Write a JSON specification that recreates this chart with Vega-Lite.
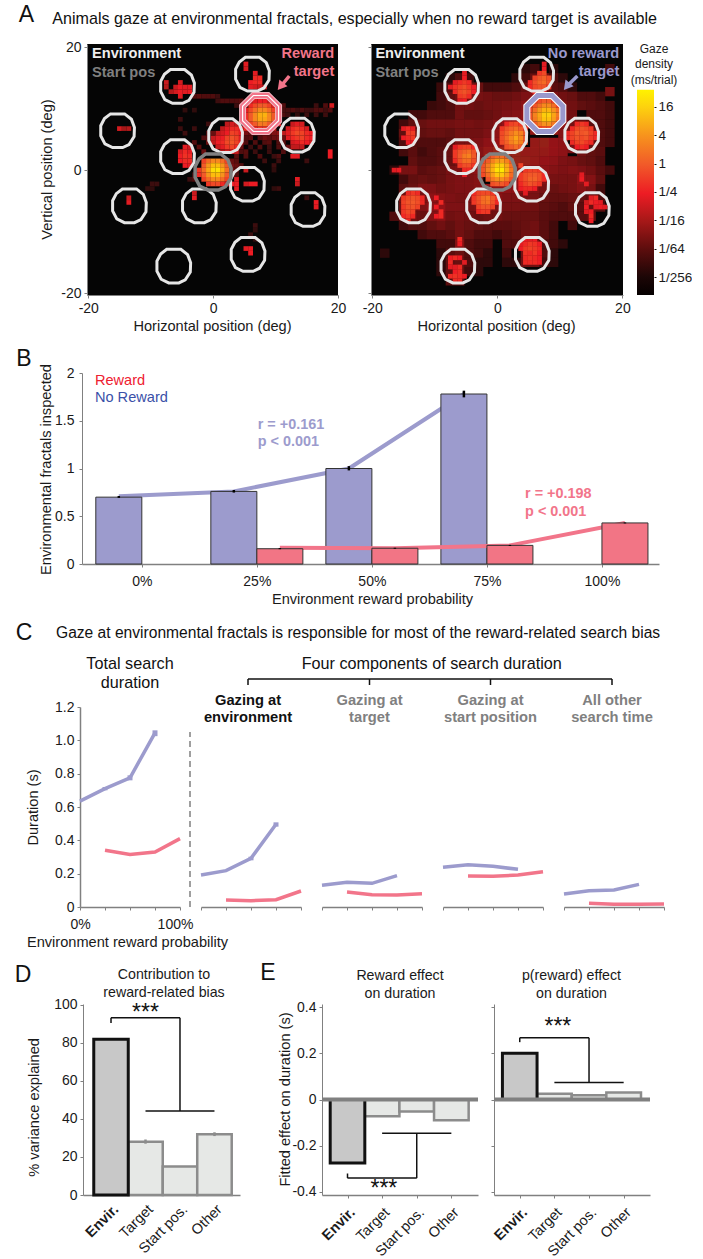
{"$schema":"https://vega.github.io/schema/vega-lite/v6.json","padding":{"left":14,"top":4,"right":0,"bottom":0},"background":"white","bounds":"flush","spacing":100,
"config":{"font":"Liberation Sans","view":{"stroke":null},"axis":{"grid":false,"labelFont":"Liberation Sans","titleFont":"Liberation Sans","labelFontSize":14,"titleFontSize":14.6,"titleFontWeight":"normal","tickSize":3,"tickColor":"#808080","domainColor":"#808080","labelColor":"#1a1a1a","titleColor":"#1a1a1a","labelPadding":3,"labelOverlap":false,"labelFlush":false},"scale":{"continuousPadding":0}},
"datasets":{"frE":[{"x":6.3,"y":15.6},{"x":-5.7,"y":13.6},{"x":-15.3,"y":6.4},{"x":-5.7,"y":2.2},{"x":2.0,"y":5.6},{"x":13.5,"y":5.7},{"x":5.5,"y":-2.3},{"x":-13.4,"y":-5.8},{"x":-2.2,"y":-5.8},{"x":15.2,"y":-6.4},{"x":5.6,"y":-13.7},{"x":-6.3,"y":-15.6}],"frS":[{"x":0,"y":-0.3}],"frT":[{"x":7.6,"y":9.2}],
"heatL":[{"x":-1.5,"y":1.5,"v":0.5},{"x":-0.75,"y":1.5,"v":1.5},{"x":0,"y":1.5,"v":3},{"x":0.75,"y":1.5,"v":3},{"x":1.5,"y":1.5,"v":1.5},{"x":2.25,"y":1.5,"v":0.5},{"x":-1.5,"y":0.75,"v":1},{"x":-0.75,"y":0.75,"v":4},{"x":0,"y":0.75,"v":10},{"x":0.75,"y":0.75,"v":10},{"x":1.5,"y":0.75,"v":4},{"x":2.25,"y":0.75,"v":1},{"x":-2.25,"y":0,"v":0.4},{"x":-1.5,"y":0,"v":1.5},{"x":-0.75,"y":0,"v":6},{"x":0,"y":0,"v":20},{"x":0.75,"y":0,"v":24},{"x":1.5,"y":0,"v":7},{"x":2.25,"y":0,"v":1.5},{"x":-2.25,"y":-0.75,"v":0.3},{"x":-1.5,"y":-0.75,"v":1},{"x":-0.75,"y":-0.75,"v":4},{"x":0,"y":-0.75,"v":10},{"x":0.75,"y":-0.75,"v":10},{"x":1.5,"y":-0.75,"v":4},{"x":2.25,"y":-0.75,"v":1},{"x":-1.5,"y":-1.5,"v":0.5},{"x":-0.75,"y":-1.5,"v":1.5},{"x":0,"y":-1.5,"v":3},{"x":0.75,"y":-1.5,"v":3},{"x":1.5,"y":-1.5,"v":1.5},{"x":2.25,"y":-1.5,"v":0.5},{"x":-0.75,"y":-2.25,"v":0.4},{"x":0,"y":-2.25,"v":0.6},{"x":0.75,"y":-2.25,"v":0.6},{"x":1.5,"y":-2.25,"v":0.3},{"x":2.25,"y":-2.25,"v":0.15},{"x":3,"y":-2.25,"v":0.25},
{"x":6,"y":11.25,"v":0.1},{"x":6.75,"y":11.25,"v":0.2},{"x":7.5,"y":11.25,"v":0.25},{"x":8.25,"y":11.25,"v":0.25},{"x":9,"y":11.25,"v":0.1},{"x":6,"y":10.5,"v":0.3},{"x":6.75,"y":10.5,"v":0.6},{"x":7.5,"y":10.5,"v":1},{"x":8.25,"y":10.5,"v":1},{"x":9,"y":10.5,"v":0.5},{"x":9.75,"y":10.5,"v":0.2},{"x":5.25,"y":9.75,"v":0.2},{"x":6,"y":9.75,"v":0.6},{"x":6.75,"y":9.75,"v":1.5},{"x":7.5,"y":9.75,"v":3},{"x":8.25,"y":9.75,"v":3},{"x":9,"y":9.75,"v":1.5},{"x":9.75,"y":9.75,"v":0.5},{"x":10.5,"y":9.75,"v":0.15},{"x":5.25,"y":9,"v":0.3},{"x":6,"y":9,"v":1},{"x":6.75,"y":9,"v":3},{"x":7.5,"y":9,"v":7},{"x":8.25,"y":9,"v":8},{"x":9,"y":9,"v":3},{"x":9.75,"y":9,"v":1},{"x":10.5,"y":9,"v":0.25},{"x":5.25,"y":8.25,"v":0.3},{"x":6,"y":8.25,"v":1},{"x":6.75,"y":8.25,"v":3},{"x":7.5,"y":8.25,"v":6},{"x":8.25,"y":8.25,"v":6},{"x":9,"y":8.25,"v":3},{"x":9.75,"y":8.25,"v":1},{"x":10.5,"y":8.25,"v":0.25},{"x":5.25,"y":7.5,"v":0.2},{"x":6,"y":7.5,"v":0.5},{"x":6.75,"y":7.5,"v":1},{"x":7.5,"y":7.5,"v":2},{"x":8.25,"y":7.5,"v":2},{"x":9,"y":7.5,"v":1},{"x":9.75,"y":7.5,"v":0.4},{"x":10.5,"y":7.5,"v":0.15},{"x":4.5,"y":6.75,"v":0.25},{"x":5.25,"y":6.75,"v":0.3},{"x":6,"y":6.75,"v":0.2},{"x":6.75,"y":6.75,"v":0.3},{"x":7.5,"y":6.75,"v":0.4},{"x":8.25,"y":6.75,"v":0.4},{"x":9,"y":6.75,"v":0.2},{"x":9.75,"y":6.75,"v":0.1},
{"x":2.25,"y":7.5,"v":0.1},{"x":3,"y":7.5,"v":0.15},{"x":3.75,"y":7.5,"v":0.1},{"x":1.5,"y":6.75,"v":0.1},{"x":2.25,"y":6.75,"v":0.2},{"x":3,"y":6.75,"v":0.3},{"x":3.75,"y":6.75,"v":0.3},{"x":0.75,"y":6,"v":0.1},{"x":1.5,"y":6,"v":0.15},{"x":2.25,"y":6,"v":0.25},{"x":3,"y":6,"v":0.5},{"x":3.75,"y":6,"v":0.4},{"x":4.5,"y":6,"v":0.25},{"x":0,"y":5.25,"v":0.12},{"x":0.75,"y":5.25,"v":0.2},{"x":1.5,"y":5.25,"v":0.25},{"x":2.25,"y":5.25,"v":0.5},{"x":3,"y":5.25,"v":0.8},{"x":3.75,"y":5.25,"v":0.5},{"x":4.5,"y":5.25,"v":0.2},{"x":0,"y":4.5,"v":0.1},{"x":0.75,"y":4.5,"v":0.25},{"x":1.5,"y":4.5,"v":0.3},{"x":2.25,"y":4.5,"v":0.6},{"x":3,"y":4.5,"v":0.9},{"x":3.75,"y":4.5,"v":0.5},{"x":4.5,"y":4.5,"v":0.25},{"x":0.75,"y":3.75,"v":0.12},{"x":1.5,"y":3.75,"v":0.2},{"x":2.25,"y":3.75,"v":0.4},{"x":3,"y":3.75,"v":0.5},{"x":3.75,"y":3.75,"v":0.3},{"x":1.5,"y":3,"v":0.08},{"x":2.25,"y":3,"v":0.15},{"x":3,"y":3,"v":0.2},{"x":3.75,"y":3,"v":0.12},
{"x":12.75,"y":7.5,"v":0.12},{"x":13.5,"y":7.5,"v":0.2},{"x":14.25,"y":7.5,"v":0.15},{"x":12,"y":6.75,"v":0.15},{"x":12.75,"y":6.75,"v":0.3},{"x":13.5,"y":6.75,"v":0.4},{"x":14.25,"y":6.75,"v":0.3},{"x":15,"y":6.75,"v":0.15},{"x":11.25,"y":6,"v":0.1},{"x":12,"y":6,"v":0.2},{"x":12.75,"y":6,"v":0.4},{"x":13.5,"y":6,"v":0.6},{"x":14.25,"y":6,"v":0.5},{"x":15,"y":6,"v":0.3},{"x":15.75,"y":6,"v":0.25},{"x":12,"y":5.25,"v":0.2},{"x":12.75,"y":5.25,"v":0.3},{"x":13.5,"y":5.25,"v":0.4},{"x":14.25,"y":5.25,"v":0.5},{"x":15,"y":5.25,"v":0.3},{"x":15.75,"y":5.25,"v":0.25},{"x":12.75,"y":4.5,"v":0.15},{"x":13.5,"y":4.5,"v":0.2},{"x":14.25,"y":4.5,"v":0.3},{"x":15,"y":4.5,"v":0.25},{"x":15.75,"y":4.5,"v":0.15},{"x":12.75,"y":3.75,"v":0.1},{"x":13.5,"y":3.75,"v":0.1},{"x":14.25,"y":3.75,"v":0.1},{"x":12.75,"y":2.25,"v":0.2},{"x":13.5,"y":2.25,"v":0.2},{"x":18.75,"y":3,"v":0.25},{"x":18.75,"y":2.25,"v":0.25},
{"x":-4.5,"y":3.75,"v":0.2},{"x":-3.75,"y":3.75,"v":0.12},{"x":-5.25,"y":3,"v":0.15},{"x":-4.5,"y":3,"v":0.3},{"x":-3.75,"y":3,"v":0.2},{"x":-5.25,"y":2.25,"v":0.25},{"x":-4.5,"y":2.25,"v":0.35},{"x":-3.75,"y":2.25,"v":0.3},{"x":-5.25,"y":1.5,"v":0.25},{"x":-4.5,"y":1.5,"v":0.3},{"x":-3.75,"y":1.5,"v":0.3},{"x":-4.5,"y":0.75,"v":0.25},{"x":-3.75,"y":0.75,"v":0.2},
{"x":5.25,"y":17.25,"v":0.2},{"x":5.25,"y":16.5,"v":0.15},{"x":6.75,"y":15.75,"v":0.2},{"x":6.75,"y":15,"v":0.3},{"x":7.5,"y":15,"v":0.3},{"x":6,"y":14.25,"v":0.25},{"x":6.75,"y":14.25,"v":0.3},{"x":7.5,"y":14.25,"v":0.3},{"x":6,"y":13.5,"v":0.2},{"x":6.75,"y":13.5,"v":0.15},{"x":7.5,"y":13.5,"v":0.12},{"x":8.25,"y":13.5,"v":0.1},
{"x":-7.5,"y":14.25,"v":0.12},{"x":-5.25,"y":14.25,"v":0.15},{"x":-7.5,"y":13.5,"v":0.08},{"x":-6,"y":13.5,"v":0.12},{"x":-5.25,"y":13.5,"v":0.25},{"x":-4.5,"y":13.5,"v":0.2},{"x":-3.75,"y":13.5,"v":0.2},{"x":-6.75,"y":12.75,"v":0.08},{"x":-6,"y":12.75,"v":0.15},{"x":-5.25,"y":12.75,"v":0.25},{"x":-4.5,"y":12.75,"v":0.2},{"x":-3.75,"y":12.75,"v":0.25},{"x":-5.25,"y":12,"v":0.2},
{"x":-15,"y":6.75,"v":0.15},{"x":-14.25,"y":6.75,"v":0.06},{"x":-13.5,"y":6.75,"v":0.08},{"x":-13.5,"y":-4.5,"v":0.12},{"x":-13.5,"y":-5.25,"v":0.2},{"x":-3,"y":-4.5,"v":0.2},{"x":-3,"y":-3.75,"v":0.12},{"x":5.25,"y":-2.25,"v":0.15},{"x":6,"y":-2.25,"v":0.25},{"x":6.75,"y":-2.25,"v":0.25},{"x":5.25,"y":0,"v":0.12},{"x":3.75,"y":-1.5,"v":0.2},{"x":3.75,"y":-2.25,"v":0.25},{"x":3.75,"y":-3,"v":0.2},{"x":5.25,"y":-12.75,"v":0.2},{"x":6,"y":-12.75,"v":0.25},{"x":6,"y":-13.5,"v":0.25},{"x":16.5,"y":-5.25,"v":0.25},{"x":16.5,"y":-6,"v":0.2},{"x":13.5,"y":-1.5,"v":0.2},{"x":13.5,"y":-2.25,"v":0.12},{"x":19,"y":10.5,"v":0.15},
{"x":11.25,"y":9.75,"v":0.01},{"x":12,"y":9.75,"v":0.01},{"x":12.75,"y":9.75,"v":0.012},{"x":13.5,"y":9.75,"v":0.008},{"x":14.25,"y":9.75,"v":0.012},{"x":15,"y":9.75,"v":0.008},{"x":15.75,"y":9.75,"v":0.008},{"x":16.5,"y":9.75,"v":0.012},{"x":17.25,"y":9.75,"v":0.012},{"x":18,"y":9.75,"v":0.008},{"x":18.75,"y":9.75,"v":0.012},{"x":11.25,"y":9,"v":0.012},{"x":12,"y":9,"v":0.008},{"x":13.5,"y":9,"v":0.006},{"x":15,"y":9,"v":0.008},{"x":16.5,"y":9,"v":0.008},{"x":18,"y":9,"v":0.008},{"x":11.25,"y":10.5,"v":0.012},{"x":16.5,"y":10.5,"v":0.008},{"x":18,"y":10.5,"v":0.012},{"x":-3,"y":12,"v":0.012},{"x":-2.25,"y":12,"v":0.015},{"x":-1.5,"y":12,"v":0.012},{"x":-0.75,"y":12,"v":0.012},{"x":0,"y":12,"v":0.012},{"x":0.75,"y":12,"v":0.008},{"x":0.75,"y":11.25,"v":0.008},{"x":1.5,"y":11.25,"v":0.012},{"x":2.25,"y":11.25,"v":0.012},{"x":3,"y":11.25,"v":0.012},{"x":3.75,"y":11.25,"v":0.012},{"x":4.5,"y":11.25,"v":0.015},{"x":3.75,"y":10.5,"v":0.008},{"x":4.5,"y":10.5,"v":0.012},{"x":5.25,"y":10.5,"v":0.02},{"x":5.25,"y":6,"v":0.025},{"x":6,"y":6,"v":0.02},{"x":6.75,"y":6,"v":0.015},{"x":7.5,"y":6,"v":0.02},{"x":8.25,"y":6,"v":0.025},{"x":9,"y":6,"v":0.025},{"x":9.75,"y":6,"v":0.03},{"x":10.5,"y":6,"v":0.04},{"x":5.25,"y":5.25,"v":0.012},{"x":6,"y":5.25,"v":0.015},{"x":7.5,"y":5.25,"v":0.012},{"x":8.25,"y":5.25,"v":0.02},{"x":9,"y":5.25,"v":0.015},{"x":9.75,"y":5.25,"v":0.02},{"x":10.5,"y":5.25,"v":0.025},{"x":11.25,"y":5.25,"v":0.02},{"x":5.25,"y":4.5,"v":0.012},{"x":6.75,"y":4.5,"v":0.012},{"x":8.25,"y":4.5,"v":0.012},{"x":9,"y":4.5,"v":0.015},{"x":10.5,"y":4.5,"v":0.012},{"x":11.25,"y":4.5,"v":0.015},{"x":4.5,"y":3.75,"v":0.02},{"x":6,"y":3.75,"v":0.008},{"x":7.5,"y":3.75,"v":0.012},{"x":9,"y":3.75,"v":0.008},{"x":10.5,"y":3.75,"v":0.012},{"x":12,"y":3.75,"v":0.02},{"x":4.5,"y":3,"v":0.012},{"x":5.25,"y":3,"v":0.015},{"x":6.75,"y":3,"v":0.008},{"x":9,"y":3,"v":0.008},{"x":11.25,"y":3,"v":0.012},{"x":3.75,"y":2.25,"v":0.015},{"x":5.25,"y":2.25,"v":0.012},{"x":7.5,"y":2.25,"v":0.012},{"x":9.75,"y":2.25,"v":0.008},{"x":10.5,"y":2.25,"v":0.012},{"x":3,"y":1.5,"v":0.02},{"x":3.75,"y":1.5,"v":0.015},{"x":8.25,"y":1.5,"v":0.008},{"x":10.5,"y":1.5,"v":0.008},{"x":15,"y":1.5,"v":0.008},{"x":3,"y":0.75,"v":0.025},{"x":3.75,"y":0.75,"v":0.02},{"x":4.5,"y":0.75,"v":0.012},{"x":9.75,"y":0.75,"v":0.008},{"x":3,"y":0,"v":0.02},{"x":3.75,"y":0,"v":0.015},{"x":9.75,"y":0,"v":0.006},{"x":3,"y":-0.75,"v":0.012},{"x":3.75,"y":-0.75,"v":0.012},{"x":-3,"y":-0.75,"v":0.008},{"x":-3,"y":-1.5,"v":0.012},{"x":-3.75,"y":-1.5,"v":0.008},{"x":-9.75,"y":-2.25,"v":0.008},{"x":-9,"y":-2.25,"v":0.008},{"x":-9.75,"y":-3,"v":0.006},{"x":-10.5,"y":-3,"v":0.006},{"x":9.75,"y":-3,"v":0.006},{"x":10.5,"y":-3,"v":0.008},{"x":15,"y":-4.5,"v":0.008},{"x":6.75,"y":-9,"v":0.008},{"x":6.75,"y":-9.75,"v":0.006},{"x":6,"y":-10.5,"v":0.008},{"x":6.75,"y":-11.25,"v":0.006},{"x":-5.25,"y":8.25,"v":0.008},{"x":-4.5,"y":9.75,"v":0.006},{"x":-3,"y":9.75,"v":0.006},{"x":-0.75,"y":7.5,"v":0.008},{"x":-5.25,"y":6.75,"v":0.008},{"x":-3,"y":6.75,"v":0.008},{"x":-4.5,"y":6,"v":0.008},{"x":-0.75,"y":6,"v":0.012},{"x":0,"y":6,"v":0.02},{"x":-1.5,"y":5.25,"v":0.012},{"x":-0.75,"y":5.25,"v":0.015},{"x":-3,"y":4.5,"v":0.012},{"x":-0.75,"y":4.5,"v":0.02},{"x":-2.25,"y":3.75,"v":0.015},{"x":-1.5,"y":3,"v":0.02}],
"hazeR":[{"x":4.5,"y":16.5,"v":0.01},{"x":9,"y":16.5,"v":0.01},{"x":18,"y":16.5,"v":0.02},{"x":-7.5,"y":15,"v":0.01},{"x":-4.5,"y":15,"v":0.02},{"x":3,"y":15,"v":0.01},{"x":4.5,"y":15,"v":0.02},{"x":9,"y":15,"v":0.03},{"x":10.5,"y":15,"v":0.01},{"x":-9,"y":13.5,"v":0.015},{"x":-7.5,"y":13.5,"v":0.03},{"x":-3,"y":13.5,"v":0.06},{"x":-1.5,"y":13.5,"v":0.02},{"x":0,"y":13.5,"v":0.02},{"x":1.5,"y":13.5,"v":0.02},{"x":3,"y":13.5,"v":0.03},{"x":4.5,"y":13.5,"v":0.06},{"x":9,"y":13.5,"v":0.04},{"x":10.5,"y":13.5,"v":0.03},{"x":12,"y":13.5,"v":0.01},{"x":18,"y":12.75,"v":0.1},{"x":-9,"y":12,"v":0.02},{"x":-7.5,"y":12,"v":0.05},{"x":-3,"y":12,"v":0.1},{"x":-1.5,"y":12,"v":0.08},{"x":0,"y":12,"v":0.06},{"x":1.5,"y":12,"v":0.06},{"x":3,"y":12,"v":0.08},{"x":4.5,"y":12,"v":0.12},{"x":6,"y":12,"v":0.2},{"x":9,"y":12,"v":0.12},{"x":10.5,"y":12,"v":0.08},{"x":12,"y":12,"v":0.06},{"x":13.5,"y":12,"v":0.03},{"x":15,"y":12,"v":0.03},{"x":16.5,"y":12,"v":0.02},{"x":-10.5,"y":10.5,"v":0.015},{"x":-9,"y":10.5,"v":0.02},{"x":-7.5,"y":10.5,"v":0.03},{"x":-6,"y":10.5,"v":0.08},{"x":-4.5,"y":10.5,"v":0.08},{"x":-3,"y":10.5,"v":0.06},{"x":-1.5,"y":10.5,"v":0.08},{"x":0,"y":10.5,"v":0.08},{"x":1.5,"y":10.5,"v":0.1},{"x":3,"y":10.5,"v":0.12},{"x":4.5,"y":10.5,"v":0.2},{"x":10.5,"y":10.5,"v":0.12},{"x":12,"y":10.5,"v":0.08},{"x":13.5,"y":10.5,"v":0.05},{"x":15,"y":10.5,"v":0.04},{"x":16.5,"y":10.5,"v":0.03},{"x":18,"y":10.5,"v":0.02},{"x":-13.5,"y":9,"v":0.02},{"x":-12,"y":9,"v":0.02},{"x":-10.5,"y":9,"v":0.03},{"x":-9,"y":9,"v":0.03},{"x":-7.5,"y":9,"v":0.03},{"x":-6,"y":9,"v":0.08},{"x":-4.5,"y":9,"v":0.05},{"x":-3,"y":9,"v":0.05},{"x":-1.5,"y":9,"v":0.06},{"x":0,"y":9,"v":0.08},{"x":1.5,"y":9,"v":0.12},{"x":3,"y":9,"v":0.15},{"x":4.5,"y":9,"v":0.2},{"x":10.5,"y":9,"v":0.15},{"x":12,"y":9,"v":0.08},{"x":15,"y":9,"v":0.03},{"x":16.5,"y":9,"v":0.03},{"x":18,"y":9,"v":0.02},{"x":-12,"y":7.5,"v":0.06},{"x":-10.5,"y":7.5,"v":0.08},{"x":-9,"y":7.5,"v":0.08},{"x":-7.5,"y":7.5,"v":0.08},{"x":-6,"y":7.5,"v":0.1},{"x":-4.5,"y":7.5,"v":0.1},{"x":-3,"y":7.5,"v":0.08},{"x":-1.5,"y":7.5,"v":0.1},{"x":0,"y":7.5,"v":0.15},{"x":1.5,"y":7.5,"v":0.25},{"x":4.5,"y":7.5,"v":0.25},{"x":6,"y":6.5,"v":0.3},{"x":7.5,"y":6.5,"v":0.3},{"x":9,"y":6.5,"v":0.3},{"x":10.5,"y":7.5,"v":0.2},{"x":12,"y":7.5,"v":0.1},{"x":16.5,"y":7.5,"v":0.03},{"x":18,"y":7.5,"v":0.02},{"x":-12,"y":6,"v":0.05},{"x":-10.5,"y":6,"v":0.06},{"x":-9,"y":6,"v":0.06},{"x":-7.5,"y":6,"v":0.05},{"x":-6,"y":6,"v":0.08},{"x":-4.5,"y":6,"v":0.08},{"x":-3,"y":6,"v":0.08},{"x":-1.5,"y":6,"v":0.12},{"x":0,"y":6,"v":0.2},{"x":10.5,"y":6,"v":0.15},{"x":16.5,"y":6,"v":0.03},{"x":18,"y":6,"v":0.02},{"x":-13.5,"y":4.5,"v":0.03},{"x":-12,"y":4.5,"v":0.03},{"x":-10.5,"y":4.5,"v":0.03},{"x":-9,"y":4.5,"v":0.03},{"x":-7.5,"y":4.5,"v":0.04},{"x":-6,"y":4.5,"v":0.1},{"x":-4.5,"y":4.5,"v":0.1},{"x":-3,"y":4.5,"v":0.12},{"x":-1.5,"y":4.5,"v":0.2},{"x":0,"y":4.5,"v":0.25},{"x":6,"y":4.5,"v":0.3},{"x":7.5,"y":4.5,"v":0.35},{"x":9,"y":4.5,"v":0.25},{"x":10.5,"y":4.5,"v":0.2},{"x":12,"y":3.5,"v":0.12},{"x":16.5,"y":4.5,"v":0.03},{"x":18,"y":4.5,"v":0.02},{"x":-15,"y":3,"v":0.02},{"x":-13.5,"y":3,"v":0.04},{"x":-12,"y":3,"v":0.02},{"x":-10.5,"y":3,"v":0.03},{"x":-9,"y":3,"v":0.04},{"x":-7.5,"y":3,"v":0.06},{"x":-3,"y":3,"v":0.15},{"x":-1.5,"y":3,"v":0.3},{"x":0,"y":3,"v":0.4},{"x":1.5,"y":3,"v":0.4},{"x":3,"y":3,"v":0.4},{"x":4.5,"y":3,"v":0.3},{"x":6,"y":3,"v":0.3},{"x":7.5,"y":3,"v":0.3},{"x":9,"y":3,"v":0.25},{"x":10.5,"y":3,"v":0.2},{"x":13.5,"y":3,"v":0.08},{"x":15,"y":3,"v":0.05},{"x":16.5,"y":3,"v":0.04},{"x":-13.5,"y":1.5,"v":0.05},{"x":-12,"y":1.5,"v":0.03},{"x":-10.5,"y":1.5,"v":0.03},{"x":-9,"y":1.5,"v":0.04},{"x":-7.5,"y":1.5,"v":0.06},{"x":-3,"y":1.5,"v":0.15},{"x":3,"y":1.5,"v":0.4},{"x":4.5,"y":1.5,"v":0.35},{"x":6,"y":1.5,"v":0.3},{"x":7.5,"y":1.5,"v":0.25},{"x":9,"y":1.5,"v":0.2},{"x":10.5,"y":1.5,"v":0.12},{"x":12,"y":1.5,"v":0.1},{"x":13.5,"y":1.5,"v":0.06},{"x":15,"y":1.5,"v":0.05},{"x":16.5,"y":1.5,"v":0.03},{"x":-16.5,"y":0,"v":0.01},{"x":-15,"y":0,"v":0.1},{"x":-13.5,"y":0,"v":0.1},{"x":-12,"y":0,"v":0.04},{"x":-10.5,"y":0,"v":0.05},{"x":-9,"y":0,"v":0.06},{"x":-7.5,"y":0,"v":0.1},{"x":-6,"y":0,"v":0.12},{"x":-4.5,"y":0,"v":0.15},{"x":-3,"y":0,"v":0.2},{"x":3,"y":0,"v":0.3},{"x":9,"y":0,"v":0.15},{"x":10.5,"y":0,"v":0.12},{"x":12,"y":0,"v":0.15},{"x":13.5,"y":0,"v":0.12},{"x":15,"y":0,"v":0.08},{"x":16.5,"y":0,"v":0.04},{"x":18,"y":0,"v":0.02},{"x":-15,"y":-1.5,"v":0.02},{"x":-13.5,"y":-1.5,"v":0.05},{"x":-12,"y":-1.5,"v":0.06},{"x":-10.5,"y":-1.5,"v":0.05},{"x":-9,"y":-1.5,"v":0.06},{"x":-7.5,"y":-1.5,"v":0.1},{"x":-6,"y":-1.5,"v":0.12},{"x":-4.5,"y":-1.5,"v":0.12},{"x":-3,"y":-1.5,"v":0.15},{"x":9,"y":-1.5,"v":0.1},{"x":10.5,"y":-1.5,"v":0.1},{"x":12,"y":-1.5,"v":0.1},{"x":13.5,"y":-1.5,"v":0.2},{"x":15,"y":-1.5,"v":0.15},{"x":16.5,"y":-1.5,"v":0.05},{"x":-15,"y":-3,"v":0.04},{"x":-12,"y":-3,"v":0.12},{"x":-10.5,"y":-3,"v":0.12},{"x":-9,"y":-3,"v":0.08},{"x":-7.5,"y":-3,"v":0.1},{"x":-6,"y":-3,"v":0.12},{"x":-4.5,"y":-3,"v":0.12},{"x":1.5,"y":-3,"v":0.2},{"x":3,"y":-3,"v":0.2},{"x":9,"y":-3,"v":0.06},{"x":10.5,"y":-3,"v":0.08},{"x":12,"y":-3,"v":0.1},{"x":13.5,"y":-3,"v":0.15},{"x":15,"y":-3,"v":0.1},{"x":16.5,"y":-3,"v":0.02},{"x":-10.5,"y":-4.5,"v":0.2},{"x":-9,"y":-4.5,"v":0.15},{"x":-7.5,"y":-4.5,"v":0.12},{"x":-6,"y":-4.5,"v":0.1},{"x":-4.5,"y":-4.5,"v":0.12},{"x":1.5,"y":-4.5,"v":0.12},{"x":3,"y":-4.5,"v":0.12},{"x":4.5,"y":-4.5,"v":0.1},{"x":7.5,"y":-4.5,"v":0.06},{"x":9,"y":-4.5,"v":0.05},{"x":10.5,"y":-4.5,"v":0.05},{"x":12,"y":-4.5,"v":0.06},{"x":13.5,"y":-4.5,"v":0.05},{"x":-10.5,"y":-6,"v":0.2},{"x":-9,"y":-6,"v":0.25},{"x":-7.5,"y":-6,"v":0.12},{"x":-6,"y":-6,"v":0.12},{"x":-4.5,"y":-6,"v":0.1},{"x":1.5,"y":-6,"v":0.1},{"x":3,"y":-6,"v":0.1},{"x":4.5,"y":-6,"v":0.08},{"x":6,"y":-6,"v":0.08},{"x":7.5,"y":-6,"v":0.05},{"x":9,"y":-6,"v":0.04},{"x":10.5,"y":-6,"v":0.03},{"x":12,"y":-6,"v":0.05},{"x":-16.5,"y":-7.5,"v":0.03},{"x":-10.5,"y":-7.5,"v":0.15},{"x":-9,"y":-7.5,"v":0.2},{"x":-7.5,"y":-7.5,"v":0.08},{"x":-6,"y":-7.5,"v":0.1},{"x":-4.5,"y":-7.5,"v":0.08},{"x":-3,"y":-7.5,"v":0.06},{"x":0,"y":-7.5,"v":0.08},{"x":1.5,"y":-7.5,"v":0.06},{"x":3,"y":-7.5,"v":0.06},{"x":4.5,"y":-7.5,"v":0.06},{"x":6,"y":-7.5,"v":0.06},{"x":7.5,"y":-7.5,"v":0.04},{"x":9,"y":-7.5,"v":0.03},{"x":10.5,"y":-7.5,"v":0.03},{"x":12,"y":-7.5,"v":0.03},{"x":13.5,"y":-7.5,"v":0.02},{"x":-15,"y":-9,"v":0.02},{"x":-13.5,"y":-9,"v":0.03},{"x":-12,"y":-9,"v":0.03},{"x":-10.5,"y":-9,"v":0.05},{"x":-9,"y":-9,"v":0.08},{"x":-7.5,"y":-9,"v":0.05},{"x":-6,"y":-9,"v":0.08},{"x":-4.5,"y":-9,"v":0.06},{"x":-3,"y":-9,"v":0.05},{"x":-1.5,"y":-9,"v":0.04},{"x":0,"y":-9,"v":0.04},{"x":1.5,"y":-9,"v":0.04},{"x":3,"y":-9,"v":0.05},{"x":4.5,"y":-9,"v":0.06},{"x":6,"y":-9,"v":0.08},{"x":7.5,"y":-9,"v":0.04},{"x":9,"y":-9,"v":0.02},{"x":12,"y":-9,"v":0.02},{"x":-12,"y":-10.5,"v":0.02},{"x":-10.5,"y":-10.5,"v":0.03},{"x":-9,"y":-10.5,"v":0.03},{"x":-7.5,"y":-10.5,"v":0.04},{"x":-6,"y":-10.5,"v":0.08},{"x":-4.5,"y":-10.5,"v":0.05},{"x":-3,"y":-10.5,"v":0.03},{"x":-1.5,"y":-10.5,"v":0.03},{"x":0,"y":-10.5,"v":0.02},{"x":1.5,"y":-10.5,"v":0.03},{"x":3,"y":-10.5,"v":0.04},{"x":4.5,"y":-10.5,"v":0.08},{"x":6,"y":-10.5,"v":0.08},{"x":7.5,"y":-10.5,"v":0.04},{"x":9,"y":-10.5,"v":0.02},{"x":-9,"y":-12,"v":0.02},{"x":-7.5,"y":-12,"v":0.02},{"x":-6,"y":-12,"v":0.15},{"x":-4.5,"y":-12,"v":0.03},{"x":-3,"y":-12,"v":0.02},{"x":-1.5,"y":-12,"v":0.02},{"x":1.5,"y":-12,"v":0.03},{"x":3,"y":-12,"v":0.03},{"x":9,"y":-12,"v":0.02},{"x":10.5,"y":-12,"v":0.01},{"x":-18,"y":-13.5,"v":0.01},{"x":-9,"y":-13.5,"v":0.01},{"x":-3,"y":-13.5,"v":0.02},{"x":-1.5,"y":-13.5,"v":0.01},{"x":1.5,"y":-13.5,"v":0.02},{"x":9,"y":-13.5,"v":0.01},{"x":-9,"y":-15,"v":0.01},{"x":-3,"y":-15,"v":0.01},{"x":-1.5,"y":-15,"v":0.01},{"x":1.5,"y":-15,"v":0.01},{"x":3,"y":-15,"v":0.01},{"x":9,"y":-15,"v":0.01},{"x":-9,"y":-16.5,"v":0.01},{"x":-3,"y":-16.5,"v":0.01},
{"x":-6,"y":3,"v":0.1},{"x":-4.5,"y":3,"v":0.1},{"x":-6,"y":1.5,"v":0.1},{"x":-4.5,"y":1.5,"v":0.12},{"x":-15,"y":-4.5,"v":0.08},{"x":-13.5,"y":-4.5,"v":0.1},{"x":-12,"y":-4.5,"v":0.1},{"x":-15,"y":-6,"v":0.08},{"x":-13.5,"y":-6,"v":0.1},{"x":-12,"y":-6,"v":0.12},{"x":-13.5,"y":-3,"v":0.06},{"x":-15,"y":-7.5,"v":0.05},{"x":-13.5,"y":-7.5,"v":0.08},{"x":-12,"y":-7.5,"v":0.06},{"x":-3,"y":-4.5,"v":0.15},{"x":-1.5,"y":-4.5,"v":0.2},{"x":0,"y":-4.5,"v":0.15},{"x":-3,"y":-6,"v":0.12},{"x":-1.5,"y":-6,"v":0.15},{"x":0,"y":-6,"v":0.12},{"x":-1.5,"y":-3,"v":0.2},{"x":0,"y":-3,"v":0.2},{"x":-3,"y":-3,"v":0.15},{"x":-1.5,"y":-7.5,"v":0.08},{"x":4.5,"y":0,"v":0.25},{"x":6,"y":0,"v":0.25},{"x":7.5,"y":0,"v":0.2},{"x":4.5,"y":-1.5,"v":0.2},{"x":6,"y":-1.5,"v":0.2},{"x":7.5,"y":-1.5,"v":0.15},{"x":4.5,"y":-3,"v":0.15},{"x":6,"y":-3,"v":0.12},{"x":7.5,"y":-3,"v":0.1},{"x":1.5,"y":-1.5,"v":0.25},{"x":3,"y":-1.5,"v":0.25},{"x":12,"y":6,"v":0.1},{"x":13.5,"y":6,"v":0.12},{"x":15,"y":6,"v":0.08},{"x":13.5,"y":4.5,"v":0.1},{"x":15,"y":4.5,"v":0.06},{"x":13.5,"y":7.5,"v":0.06},{"x":15,"y":7.5,"v":0.04},{"x":3,"y":6,"v":0.25},{"x":1.5,"y":6,"v":0.25},{"x":3,"y":4.5,"v":0.3},{"x":1.5,"y":4.5,"v":0.3},{"x":3,"y":7.5,"v":0.25},{"x":6,"y":13.5,"v":0.15},{"x":7.5,"y":13.5,"v":0.15},{"x":6,"y":15,"v":0.06},{"x":7.5,"y":15,"v":0.08},{"x":6,"y":16.5,"v":0.02},{"x":-6,"y":13.5,"v":0.08},{"x":-4.5,"y":13.5,"v":0.08},{"x":-6,"y":12,"v":0.08},{"x":-4.5,"y":12,"v":0.1},{"x":-6,"y":15,"v":0.03},{"x":-15,"y":6,"v":0.05},{"x":-13.5,"y":6,"v":0.06},{"x":-15,"y":4.5,"v":0.03},{"x":-13.5,"y":7.5,"v":0.05},{"x":-15,"y":7.5,"v":0.02},{"x":15,"y":-4.5,"v":0.05},{"x":13.5,"y":-6,"v":0.04},{"x":15,"y":-6,"v":0.06},{"x":16.5,"y":-6,"v":0.04},{"x":13.5,"y":-7.5,"v":0.02},{"x":15,"y":-7.5,"v":0.05},{"x":16.5,"y":-4.5,"v":0.03},{"x":4.5,"y":-12,"v":0.1},{"x":6,"y":-12,"v":0.1},{"x":7.5,"y":-12,"v":0.03},{"x":4.5,"y":-13.5,"v":0.1},{"x":6,"y":-13.5,"v":0.1},{"x":7.5,"y":-13.5,"v":0.03},{"x":4.5,"y":-15,"v":0.08},{"x":6,"y":-15,"v":0.08},{"x":7.5,"y":-15,"v":0.02},{"x":-7.5,"y":-13.5,"v":0.04},{"x":-6,"y":-13.5,"v":0.06},{"x":-4.5,"y":-13.5,"v":0.03},{"x":-7.5,"y":-15,"v":0.05},{"x":-6,"y":-15,"v":0.06},{"x":-4.5,"y":-15,"v":0.03},{"x":-7.5,"y":-16.5,"v":0.05},{"x":-6,"y":-16.5,"v":0.06},{"x":-4.5,"y":-16.5,"v":0.02},{"x":-7.5,"y":-18,"v":0.04},{"x":-6,"y":-18,"v":0.05},{"x":6,"y":-4.5,"v":0.1}],
"heatR":[{"x":-1.5,"y":2.25,"v":0.6},{"x":-0.75,"y":2.25,"v":1},{"x":0,"y":2.25,"v":1.5},{"x":0.75,"y":2.25,"v":1.5},{"x":1.5,"y":2.25,"v":1},{"x":-2.25,"y":1.5,"v":0.6},{"x":-1.5,"y":1.5,"v":1},{"x":-0.75,"y":1.5,"v":2.5},{"x":0,"y":1.5,"v":5},{"x":0.75,"y":1.5,"v":5},{"x":1.5,"y":1.5,"v":2.5},{"x":2.25,"y":1.5,"v":1},{"x":-2.25,"y":0.75,"v":0.8},{"x":-1.5,"y":0.75,"v":2},{"x":-0.75,"y":0.75,"v":6},{"x":0,"y":0.75,"v":14},{"x":0.75,"y":0.75,"v":14},{"x":1.5,"y":0.75,"v":6},{"x":2.25,"y":0.75,"v":1.5},{"x":-2.25,"y":0,"v":0.8},{"x":-1.5,"y":0,"v":2.5},{"x":-0.75,"y":0,"v":8},{"x":0,"y":0,"v":24},{"x":0.75,"y":0,"v":28},{"x":1.5,"y":0,"v":8},{"x":2.25,"y":0,"v":2},{"x":-2.25,"y":-0.75,"v":0.6},{"x":-1.5,"y":-0.75,"v":1.5},{"x":-0.75,"y":-0.75,"v":5},{"x":0,"y":-0.75,"v":12},{"x":0.75,"y":-0.75,"v":12},{"x":1.5,"y":-0.75,"v":5},{"x":2.25,"y":-0.75,"v":1.5},{"x":-1.5,"y":-1.5,"v":0.8},{"x":-0.75,"y":-1.5,"v":2},{"x":0,"y":-1.5,"v":3.5},{"x":0.75,"y":-1.5,"v":3.5},{"x":1.5,"y":-1.5,"v":2},{"x":2.25,"y":-1.5,"v":0.8},{"x":-0.75,"y":-2.25,"v":0.7},{"x":0,"y":-2.25,"v":1},{"x":0.75,"y":-2.25,"v":1},{"x":1.5,"y":-2.25,"v":0.6},
{"x":6,"y":11.25,"v":0.4},{"x":6.75,"y":11.25,"v":0.6},{"x":7.5,"y":11.25,"v":1},{"x":8.25,"y":11.25,"v":1},{"x":9,"y":11.25,"v":0.5},{"x":5.25,"y":10.5,"v":0.4},{"x":6,"y":10.5,"v":0.8},{"x":6.75,"y":10.5,"v":1.5},{"x":7.5,"y":10.5,"v":3},{"x":8.25,"y":10.5,"v":3},{"x":9,"y":10.5,"v":1.5},{"x":9.75,"y":10.5,"v":0.5},{"x":5.25,"y":9.75,"v":0.6},{"x":6,"y":9.75,"v":1.5},{"x":6.75,"y":9.75,"v":4},{"x":7.5,"y":9.75,"v":8},{"x":8.25,"y":9.75,"v":8},{"x":9,"y":9.75,"v":4},{"x":9.75,"y":9.75,"v":1.5},{"x":10.5,"y":9.75,"v":0.5},{"x":5.25,"y":9,"v":0.8},{"x":6,"y":9,"v":2.5},{"x":6.75,"y":9,"v":6},{"x":7.5,"y":9,"v":14},{"x":8.25,"y":9,"v":15},{"x":9,"y":9,"v":6},{"x":9.75,"y":9,"v":2},{"x":10.5,"y":9,"v":0.6},{"x":5.25,"y":8.25,"v":0.8},{"x":6,"y":8.25,"v":2},{"x":6.75,"y":8.25,"v":5},{"x":7.5,"y":8.25,"v":11},{"x":8.25,"y":8.25,"v":11},{"x":9,"y":8.25,"v":5},{"x":9.75,"y":8.25,"v":1.5},{"x":10.5,"y":8.25,"v":0.5},{"x":5.25,"y":7.5,"v":0.5},{"x":6,"y":7.5,"v":1},{"x":6.75,"y":7.5,"v":2},{"x":7.5,"y":7.5,"v":4},{"x":8.25,"y":7.5,"v":4},{"x":9,"y":7.5,"v":2},{"x":9.75,"y":7.5,"v":0.8},{"x":6.75,"y":6.75,"v":0.6},{"x":7.5,"y":6.75,"v":0.8},{"x":8.25,"y":6.75,"v":0.8},
{"x":1.5,"y":7.5,"v":0.3},{"x":2.25,"y":7.5,"v":0.5},{"x":3,"y":7.5,"v":0.6},{"x":3.75,"y":7.5,"v":0.4},{"x":0.75,"y":6.75,"v":0.4},{"x":1.5,"y":6.75,"v":0.8},{"x":2.25,"y":6.75,"v":1.2},{"x":3,"y":6.75,"v":1.5},{"x":3.75,"y":6.75,"v":1},{"x":4.5,"y":6.75,"v":0.4},{"x":0.75,"y":6,"v":0.6},{"x":1.5,"y":6,"v":1.2},{"x":2.25,"y":6,"v":2},{"x":3,"y":6,"v":3.5},{"x":3.75,"y":6,"v":2.5},{"x":4.5,"y":6,"v":1},{"x":0.75,"y":5.25,"v":0.7},{"x":1.5,"y":5.25,"v":1.5},{"x":2.25,"y":5.25,"v":3},{"x":3,"y":5.25,"v":6},{"x":3.75,"y":5.25,"v":3},{"x":4.5,"y":5.25,"v":1},{"x":0.75,"y":4.5,"v":0.6},{"x":1.5,"y":4.5,"v":1.2},{"x":2.25,"y":4.5,"v":2.5},{"x":3,"y":4.5,"v":4},{"x":3.75,"y":4.5,"v":2.5},{"x":4.5,"y":4.5,"v":0.8},{"x":1.5,"y":3.75,"v":0.7},{"x":2.25,"y":3.75,"v":1},{"x":3,"y":3.75,"v":1.5},{"x":3.75,"y":3.75,"v":1},
{"x":-6.75,"y":3.75,"v":0.2},{"x":-6,"y":3.75,"v":0.4},{"x":-5.25,"y":3.75,"v":0.5},{"x":-4.5,"y":3.75,"v":0.5},{"x":-3.75,"y":3.75,"v":0.3},{"x":-6.75,"y":3,"v":0.4},{"x":-6,"y":3,"v":0.8},{"x":-5.25,"y":3,"v":1.2},{"x":-4.5,"y":3,"v":1.5},{"x":-3.75,"y":3,"v":0.8},{"x":-6.75,"y":2.25,"v":0.4},{"x":-6,"y":2.25,"v":1},{"x":-5.25,"y":2.25,"v":2},{"x":-4.5,"y":2.25,"v":2.5},{"x":-3.75,"y":2.25,"v":1},{"x":-6.75,"y":1.5,"v":0.3},{"x":-6,"y":1.5,"v":0.8},{"x":-5.25,"y":1.5,"v":1.5},{"x":-4.5,"y":1.5,"v":1.5},{"x":-3.75,"y":1.5,"v":0.7},{"x":-6,"y":0.75,"v":0.4},{"x":-5.25,"y":0.75,"v":0.7},{"x":-4.5,"y":0.75,"v":0.7},{"x":-3.75,"y":0.75,"v":0.4},{"x":-5.25,"y":0,"v":0.3},{"x":-4.5,"y":0,"v":0.3},
{"x":3.75,"y":0.75,"v":0.5},{"x":4.5,"y":0,"v":0.4},{"x":5.25,"y":0,"v":0.5},{"x":6,"y":0,"v":0.5},{"x":6.75,"y":0,"v":0.4},{"x":3.75,"y":-0.75,"v":0.4},{"x":4.5,"y":-0.75,"v":0.7},{"x":5.25,"y":-0.75,"v":0.9},{"x":6,"y":-0.75,"v":1},{"x":6.75,"y":-0.75,"v":0.7},{"x":7.5,"y":-0.75,"v":0.3},{"x":3.75,"y":-1.5,"v":0.4},{"x":4.5,"y":-1.5,"v":0.7},{"x":5.25,"y":-1.5,"v":1.2},{"x":6,"y":-1.5,"v":1.2},{"x":6.75,"y":-1.5,"v":0.7},{"x":7.5,"y":-1.5,"v":0.3},{"x":3.75,"y":-2.25,"v":0.3},{"x":4.5,"y":-2.25,"v":0.5},{"x":5.25,"y":-2.25,"v":0.8},{"x":6,"y":-2.25,"v":0.6},{"x":6.75,"y":-2.25,"v":0.4},{"x":3.75,"y":-3,"v":0.25},{"x":4.5,"y":-3,"v":0.3},{"x":5.25,"y":-3,"v":0.3},{"x":6,"y":-3,"v":0.25},{"x":4.5,"y":-3.75,"v":0.2},
{"x":-3.75,"y":-3.75,"v":0.3},{"x":-3,"y":-3.75,"v":0.5},{"x":-2.25,"y":-3.75,"v":0.6},{"x":-1.5,"y":-3.75,"v":0.6},{"x":-0.75,"y":-3.75,"v":0.4},{"x":-3.75,"y":-4.5,"v":0.4},{"x":-3,"y":-4.5,"v":0.8},{"x":-2.25,"y":-4.5,"v":1.5},{"x":-1.5,"y":-4.5,"v":2},{"x":-0.75,"y":-4.5,"v":1},{"x":0,"y":-4.5,"v":0.4},{"x":-3.75,"y":-5.25,"v":0.4},{"x":-3,"y":-5.25,"v":0.7},{"x":-2.25,"y":-5.25,"v":1.5},{"x":-1.5,"y":-5.25,"v":1.8},{"x":-0.75,"y":-5.25,"v":0.8},{"x":0,"y":-5.25,"v":0.3},{"x":-3,"y":-6,"v":0.5},{"x":-2.25,"y":-6,"v":0.8},{"x":-1.5,"y":-6,"v":0.8},{"x":-0.75,"y":-6,"v":0.5},{"x":-3,"y":-6.75,"v":0.3},{"x":-2.25,"y":-6.75,"v":0.4},{"x":-1.5,"y":-6.75,"v":0.4},
{"x":-14.25,"y":-3.75,"v":0.3},{"x":-13.5,"y":-3.75,"v":0.4},{"x":-12.75,"y":-3.75,"v":0.3},{"x":-15,"y":-4.5,"v":0.4},{"x":-14.25,"y":-4.5,"v":0.6},{"x":-13.5,"y":-4.5,"v":0.8},{"x":-12.75,"y":-4.5,"v":0.6},{"x":-12,"y":-4.5,"v":0.3},{"x":-15,"y":-5.25,"v":0.5},{"x":-14.25,"y":-5.25,"v":0.8},{"x":-13.5,"y":-5.25,"v":1},{"x":-12.75,"y":-5.25,"v":0.7},{"x":-12,"y":-5.25,"v":0.3},{"x":-15,"y":-6,"v":0.4},{"x":-14.25,"y":-6,"v":0.7},{"x":-13.5,"y":-6,"v":0.8},{"x":-12.75,"y":-6,"v":0.5},{"x":-15,"y":-6.75,"v":0.4},{"x":-14.25,"y":-6.75,"v":0.6},{"x":-13.5,"y":-6.75,"v":0.5},{"x":-15,"y":-7.5,"v":0.3},{"x":-14.25,"y":-7.5,"v":0.4},{"x":-13.5,"y":-7.5,"v":0.3},{"x":-14.25,"y":-8.25,"v":0.3},
{"x":-5.25,"y":15.75,"v":0.2},{"x":-5.25,"y":15,"v":0.25},{"x":-6.75,"y":14.25,"v":0.2},{"x":-6,"y":14.25,"v":0.3},{"x":-5.25,"y":14.25,"v":0.4},{"x":-4.5,"y":14.25,"v":0.3},{"x":-7.5,"y":13.5,"v":0.2},{"x":-6.75,"y":13.5,"v":0.35},{"x":-6,"y":13.5,"v":0.5},{"x":-5.25,"y":13.5,"v":0.7},{"x":-4.5,"y":13.5,"v":0.4},{"x":-3.75,"y":13.5,"v":0.25},{"x":-6.75,"y":12.75,"v":0.3},{"x":-6,"y":12.75,"v":0.6},{"x":-5.25,"y":12.75,"v":0.8},{"x":-4.5,"y":12.75,"v":0.5},{"x":-3.75,"y":12.75,"v":0.25},{"x":-6,"y":12,"v":0.4},{"x":-5.25,"y":12,"v":0.5},{"x":-4.5,"y":12,"v":0.3},{"x":-6,"y":11.25,"v":0.2},{"x":-5.25,"y":11.25,"v":0.25},
{"x":7.5,"y":17.25,"v":0.2},{"x":7.5,"y":16.5,"v":0.25},{"x":6.75,"y":15.75,"v":0.4},{"x":7.5,"y":15.75,"v":0.6},{"x":6,"y":15,"v":0.5},{"x":6.75,"y":15,"v":0.9},{"x":7.5,"y":15,"v":1.2},{"x":8.25,"y":15,"v":0.7},{"x":5.25,"y":14.25,"v":0.3},{"x":6,"y":14.25,"v":0.7},{"x":6.75,"y":14.25,"v":1.2},{"x":7.5,"y":14.25,"v":1.5},{"x":8.25,"y":14.25,"v":0.8},{"x":5.25,"y":13.5,"v":0.3},{"x":6,"y":13.5,"v":0.6},{"x":6.75,"y":13.5,"v":0.8},{"x":7.5,"y":13.5,"v":0.8},{"x":8.25,"y":13.5,"v":0.4},{"x":6,"y":12.75,"v":0.3},{"x":6.75,"y":12.75,"v":0.4},{"x":7.5,"y":12.75,"v":0.3},
{"x":12.75,"y":7.5,"v":0.3},{"x":13.5,"y":7.5,"v":0.4},{"x":14.25,"y":7.5,"v":0.3},{"x":12,"y":6.75,"v":0.3},{"x":12.75,"y":6.75,"v":0.6},{"x":13.5,"y":6.75,"v":0.8},{"x":14.25,"y":6.75,"v":0.6},{"x":15,"y":6.75,"v":0.4},{"x":11.25,"y":6,"v":0.3},{"x":12,"y":6,"v":0.5},{"x":12.75,"y":6,"v":1},{"x":13.5,"y":6,"v":0.8},{"x":14.25,"y":6,"v":1},{"x":15,"y":6,"v":0.5},{"x":15.75,"y":6,"v":0.3},{"x":11.25,"y":5.25,"v":0.3},{"x":12,"y":5.25,"v":0.5},{"x":12.75,"y":5.25,"v":0.8},{"x":13.5,"y":5.25,"v":0.6},{"x":14.25,"y":5.25,"v":0.8},{"x":15,"y":5.25,"v":0.4},{"x":15.75,"y":5.25,"v":0.3},{"x":12,"y":4.5,"v":0.3},{"x":12.75,"y":4.5,"v":0.5},{"x":13.5,"y":4.5,"v":0.6},{"x":14.25,"y":4.5,"v":0.4},{"x":15,"y":4.5,"v":0.3},{"x":12.75,"y":3.75,"v":0.25},{"x":13.5,"y":3.75,"v":0.3},{"x":14.25,"y":3.75,"v":0.25},
{"x":-15,"y":6.75,"v":0.2},{"x":-14.25,"y":6.75,"v":0.3},{"x":-13.5,"y":6.75,"v":0.2},{"x":-14.25,"y":6,"v":0.4},{"x":-13.5,"y":6,"v":0.45},{"x":-15,"y":5.25,"v":0.25},{"x":-14.25,"y":5.25,"v":0.3},{"x":-13.5,"y":5.25,"v":0.4},{"x":-14.25,"y":4.5,"v":0.25},{"x":-13.5,"y":4.5,"v":0.2},
{"x":15,"y":-4.5,"v":0.2},{"x":15.75,"y":-4.5,"v":0.3},{"x":14.25,"y":-5.25,"v":0.15},{"x":15,"y":-5.25,"v":0.3},{"x":15.75,"y":-5.25,"v":0.25},{"x":16.5,"y":-5.25,"v":0.2},{"x":14.25,"y":-6,"v":0.25},{"x":15.75,"y":-6,"v":0.2},{"x":16.5,"y":-6,"v":0.25},{"x":14.25,"y":-6.75,"v":0.2},{"x":15,"y":-6.75,"v":0.25},{"x":15,"y":-7.5,"v":0.3},{"x":15,"y":-8.25,"v":0.25},{"x":17.25,"y":-6,"v":0.2},
{"x":4.5,"y":-11.25,"v":0.25},{"x":5.25,"y":-11.25,"v":0.2},{"x":6,"y":-11.25,"v":0.25},{"x":3.75,"y":-12,"v":0.2},{"x":4.5,"y":-12,"v":0.3},{"x":5.25,"y":-12,"v":0.4},{"x":6,"y":-12,"v":0.35},{"x":6.75,"y":-12,"v":0.25},{"x":3.75,"y":-12.75,"v":0.25},{"x":4.5,"y":-12.75,"v":0.4},{"x":5.25,"y":-12.75,"v":0.5},{"x":6,"y":-12.75,"v":0.4},{"x":6.75,"y":-12.75,"v":0.3},{"x":4.5,"y":-13.5,"v":0.35},{"x":5.25,"y":-13.5,"v":0.3},{"x":6,"y":-13.5,"v":0.4},{"x":6.75,"y":-13.5,"v":0.25},{"x":4.5,"y":-14.25,"v":0.3},{"x":5.25,"y":-14.25,"v":0.35},{"x":6,"y":-14.25,"v":0.3},{"x":6.75,"y":-14.25,"v":0.25},{"x":4.5,"y":-15,"v":0.3},{"x":5.25,"y":-15,"v":0.3},{"x":6,"y":-15,"v":0.3},{"x":6.75,"y":-15,"v":0.25},
{"x":-7.5,"y":-14.25,"v":0.25},{"x":-6.75,"y":-14.25,"v":0.3},{"x":-6,"y":-14.25,"v":0.25},{"x":-7.5,"y":-15,"v":0.3},{"x":-5.25,"y":-15,"v":0.2},{"x":-7.5,"y":-15.75,"v":0.2},{"x":-6.75,"y":-15.75,"v":0.2},{"x":-6,"y":-15.75,"v":0.3},{"x":-6.75,"y":-16.5,"v":0.25},{"x":-6,"y":-16.5,"v":0.3},{"x":-7.5,"y":-17.25,"v":0.3},{"x":-6.75,"y":-17.25,"v":0.35},{"x":-6,"y":-17.25,"v":0.3},{"x":-5.25,"y":-17.25,"v":0.25},{"x":-6.75,"y":-18,"v":0.3},{"x":-6,"y":-18,"v":0.3},{"x":-6,"y":-11.25,"v":0.3},{"x":-6,"y":-12,"v":0.25},
{"x":-9.75,"y":-4.5,"v":0.25},{"x":-9,"y":-5.25,"v":0.3},{"x":-9.75,"y":-6,"v":0.25},{"x":-9,"y":-6.75,"v":0.3},{"x":-9.75,"y":-7.5,"v":0.25},{"x":-9,"y":-7.5,"v":0.3},{"x":-16.5,"y":0,"v":0.2},{"x":-15.75,"y":0,"v":0.25},{"x":13.5,"y":-1.5,"v":0.25},{"x":14.25,"y":-2.25,"v":0.2},{"x":13.5,"y":-0.75,"v":0.2},{"x":-5.25,"y":-0.75,"v":0.2}]},
"vconcat":[
{"hconcat":[
{"width":33,"height":1,"data":{"values":[]},"mark":"point"},
{"width":251,"height":251,"view":{"fill":"#050505"},"encoding":{"x":{"field":"x","type":"quantitative","scale":{"domain":[-20.2,20],"nice":false,"zero":false},"axis":{"values":[-20,0,20],"labelExpr":"replace(datum.label,'−','-')","title":"Horizontal position (deg)","titleX":125,"titleY":23}},"y":{"field":"y","type":"quantitative","scale":{"domain":[-20.3,20.5],"nice":false,"zero":false},"axis":{"values":[-20,0,20],"labelExpr":"replace(datum.label,'−','-')","title":"Vertical position (deg)","titleX":-33,"titleY":125}}},"layer":[
{"data":{"name":"heatL"},"mark":{"type":"rect","width":4.8,"height":4.7},"encoding":{"color":{"field":"v","type":"quantitative","legend":null,"scale":{"type":"log","base":2,"domain":[0.00163,0.0039,0.0156,0.0625,0.25,1,4,16,36.5],"range":["#050000","#1c0606","#5c0d0d","#a81818","#ed1c24","#f15a29","#f7931d","#fdd20e","#fff200"]}}}},
{"data":{"name":"frE"},"mark":{"type":"point","shape":"M-0.42,-1L0.42,-1L0.82,-0.68L1,-0.2L0.98,0.35L0.68,0.82L0.3,1L-0.3,1L-0.75,0.78L-1,0.3L-1,-0.3L-0.78,-0.72Z","filled":false,"stroke":"#e6e6e6","strokeWidth":3,"size":1136,"opacity":1}},
{"data":{"name":"frS"},"mark":{"type":"point","shape":"M-0.42,-1L0.42,-1L0.82,-0.68L1,-0.2L0.98,0.35L0.68,0.82L0.3,1L-0.3,1L-0.75,0.78L-1,0.3L-1,-0.3L-0.78,-0.72Z","filled":false,"stroke":"#808080","strokeWidth":3.5,"size":1296,"opacity":1}},
{"data":{"name":"frT"},"mark":{"type":"point","shape":"M-0.4,-1L0.4,-1L1,-0.4L1,0.4L0.4,1L-0.4,1L-1,0.4L-1,-0.4Z","filled":false,"stroke":"#f2b6c0","strokeWidth":7,"size":1296,"opacity":1}},
{"data":{"name":"frT"},"mark":{"type":"point","shape":"M-0.4,-1L0.4,-1L1,-0.4L1,0.4L0.4,1L-0.4,1L-1,0.4L-1,-0.4Z","filled":false,"stroke":"#f2758a","strokeWidth":5,"size":1296,"opacity":1}},
{"data":{"name":"frT"},"mark":{"type":"point","shape":"M-0.4,-1L0.4,-1L1,-0.4L1,0.4L0.4,1L-0.4,1L-1,0.4L-1,-0.4Z","filled":false,"stroke":"#ffffff","strokeWidth":1.2,"size":1296,"opacity":1}},
{"data":{"values":[{"x":12.2,"y":15.3,"x2":10.9,"y2":13.7}]},"mark":{"type":"rule","stroke":"#f2758a","strokeWidth":3.5},"encoding":{"x2":{"field":"x2"},"y2":{"field":"y2"}}},
{"data":{"values":[{"x":10.8,"y":13.6}]},"mark":{"type":"point","shape":"triangle-up","filled":true,"fill":"#f2758a","size":110,"opacity":1,"angle":219}},
{"data":{"values":[{"x":-19.4,"y":18.8,"t":"Environment"}]},"mark":{"type":"text","align":"left","baseline":"middle","fontSize":14.6,"fontWeight":"bold","fill":"#eeeeee"},"encoding":{"text":{"field":"t"}}},
{"data":{"values":[{"x":-19.4,"y":15.8,"t":"Start pos"}]},"mark":{"type":"text","align":"left","baseline":"middle","fontSize":14.6,"fontWeight":"bold","fill":"#808080"},"encoding":{"text":{"field":"t"}}},
{"data":{"values":[{"x":19.4,"y":18.8,"t":"Reward"},{"x":19.4,"y":15.9,"t":"target"}]},"mark":{"type":"text","align":"right","baseline":"middle","fontSize":14.6,"fontWeight":"bold","fill":"#f2758a"},"encoding":{"text":{"field":"t"}}},
{"data":{"values":[{"x":-29.9,"y":25.2,"t":"A"}]},"mark":{"type":"text","align":"center","baseline":"middle","fontSize":23,"fill":"#111111"},"encoding":{"text":{"field":"t"}}},
{"data":{"values":[{"x":-25.76,"y":24.55,"t":"Animals gaze at environmental fractals, especially when no reward target is available"}]},"mark":{"type":"text","align":"left","baseline":"middle","fontSize":16.1,"fill":"#111111"},"encoding":{"text":{"field":"t"}}}
]},
{"width":5,"height":1,"data":{"values":[]},"mark":"point"},
{"width":252,"height":251,"view":{"fill":"#050505"},"encoding":{"x":{"field":"x","type":"quantitative","scale":{"domain":[-20.2,20.1],"nice":false,"zero":false},"axis":{"values":[-20,0,20],"labelExpr":"replace(datum.label,'−','-')","title":"Horizontal position (deg)","titleX":125,"titleY":23}},"y":{"field":"y","type":"quantitative","scale":{"domain":[-20.3,20.5],"nice":false,"zero":false},"axis":{"values":[-20,0,20],"labels":false,"title":null}}},"layer":[
{"data":{"name":"hazeR"},"mark":{"type":"rect","width":9.5,"height":9.3,"opacity":0.62},"encoding":{"color":{"field":"v","type":"quantitative","legend":null,"scale":{"type":"log","base":2,"domain":[0.00163,0.0039,0.0156,0.0625,0.25,1,4,16,36.5],"range":["#050000","#1c0606","#5c0d0d","#a81818","#ed1c24","#f15a29","#f7931d","#fdd20e","#fff200"]}}}},
{"data":{"name":"heatR"},"mark":{"type":"rect","width":4.8,"height":4.7},"encoding":{"color":{"field":"v","type":"quantitative","legend":null}}},
{"data":{"name":"frE"},"mark":{"type":"point","shape":"M-0.42,-1L0.42,-1L0.82,-0.68L1,-0.2L0.98,0.35L0.68,0.82L0.3,1L-0.3,1L-0.75,0.78L-1,0.3L-1,-0.3L-0.78,-0.72Z","filled":false,"stroke":"#e6e6e6","strokeWidth":3,"size":1136,"opacity":1}},
{"data":{"name":"frS"},"mark":{"type":"point","shape":"M-0.42,-1L0.42,-1L0.82,-0.68L1,-0.2L0.98,0.35L0.68,0.82L0.3,1L-0.3,1L-0.75,0.78L-1,0.3L-1,-0.3L-0.78,-0.72Z","filled":false,"stroke":"#808080","strokeWidth":3.5,"size":1296,"opacity":1}},
{"data":{"name":"frT"},"mark":{"type":"point","shape":"M-0.4,-1L0.4,-1L1,-0.4L1,0.4L0.4,1L-0.4,1L-1,0.4L-1,-0.4Z","filled":false,"stroke":"#ffffff","strokeWidth":7,"size":1296,"opacity":1}},
{"data":{"name":"frT"},"mark":{"type":"point","shape":"M-0.4,-1L0.4,-1L1,-0.4L1,0.4L0.4,1L-0.4,1L-1,0.4L-1,-0.4Z","filled":false,"stroke":"#9a99cd","strokeWidth":5,"size":1296,"opacity":1}},
{"data":{"values":[{"x":12.8,"y":15.3,"x2":11.2,"y2":13.7}]},"mark":{"type":"rule","stroke":"#9a99cd","strokeWidth":3.5},"encoding":{"x2":{"field":"x2"},"y2":{"field":"y2"}}},
{"data":{"values":[{"x":11.1,"y":13.6}]},"mark":{"type":"point","shape":"triangle-up","filled":true,"fill":"#9a99cd","size":110,"opacity":1,"angle":219}},
{"data":{"values":[{"x":-19.5,"y":18.8,"t":"Environment"}]},"mark":{"type":"text","align":"left","baseline":"middle","fontSize":14.6,"fontWeight":"bold","fill":"#eeeeee"},"encoding":{"text":{"field":"t"}}},
{"data":{"values":[{"x":-19.5,"y":15.8,"t":"Start pos"}]},"mark":{"type":"text","align":"left","baseline":"middle","fontSize":14.6,"fontWeight":"bold","fill":"#808080"},"encoding":{"text":{"field":"t"}}},
{"data":{"values":[{"x":19.5,"y":18.8,"t":"No reward"},{"x":19.5,"y":15.9,"t":"target"}]},"mark":{"type":"text","align":"right","baseline":"middle","fontSize":14.6,"fontWeight":"bold","fill":"#9a99cd"},"encoding":{"text":{"field":"t"}}}
]},
{"width":17,"height":251,"encoding":{"x":{"field":"x","type":"quantitative","scale":{"domain":[0,1],"nice":false},"axis":null},"y":{"field":"y","type":"quantitative","scale":{"type":"log","base":2,"domain":[0.00163,342.5],"nice":false},"axis":{"orient":"right","domain":false,"values":[16,4,1,0.25,0.0625,0.015625,0.00390625],"title":null,"tickColor":"#111111","tickSize":2,"labelPadding":2,"labelFontSize":13.5,"labelExpr":"datum.value>=1?format(datum.value,'d'):'1/'+format(1/datum.value,'d')"}}},"layer":[
{"data":{"values":[{"x":0,"x2":1,"y":0.00163,"y2":36.5}]},"mark":{"type":"rect","fill":{"gradient":"linear","x1":0,"y1":1,"x2":0,"y2":0,"stops":[{"offset":0,"color":"#050000"},{"offset":0.087,"color":"#1c0606"},{"offset":0.223,"color":"#5c0d0d"},{"offset":0.364,"color":"#a81818"},{"offset":0.495,"color":"#ed1c24"},{"offset":0.636,"color":"#f15a29"},{"offset":0.777,"color":"#f7931d"},{"offset":0.917,"color":"#fdd20e"},{"offset":1,"color":"#fff200"}]}},"encoding":{"x2":{"field":"x2"},"y2":{"field":"y2"}}},
{"data":{"values":[{"x":1,"y":269,"t":"Gaze"},{"x":1,"y":130,"t":"density"},{"x":1,"y":59.5,"t":"(ms/trial)"}]},"mark":{"type":"text","align":"center","baseline":"middle","fontSize":12,"fill":"#1a1a1a"},"encoding":{"text":{"field":"t"}}}
]}
],"spacing":14,"bounds":"flush"},
{"width":1,"height":129,"data":{"values":[]},"mark":"point"},
{"hconcat":[
{"width":40,"height":1,"data":{"values":[]},"mark":"point"},
{"width":577,"height":191,"encoding":{"x":{"field":"x","type":"quantitative","scale":{"domain":[-13,112.4],"nice":false,"zero":false},"axis":{"values":[0,25,50,75,100],"labelExpr":"datum.value+'%'","title":"Environment reward probability","titleX":290,"titleY":27,"domainWidth":1.5,"labelPadding":7}},"y":{"field":"y","type":"quantitative","scale":{"domain":[0,2],"nice":false},"axis":{"values":[0,0.5,1,1.5,2],"labelExpr":"''+datum.value","title":"Environmental fractals inspected","titleX":-29,"titleY":96,"labelPadding":5}}},"layer":[
{"data":{"values":[{"x":-5,"y":0.71},{"x":20,"y":0.76},{"x":45,"y":1.0},{"x":70,"y":1.78}]},"mark":{"type":"line","stroke":"#9c9bcd","strokeWidth":4}},
{"data":{"values":[{"x":-10,"x2":0,"y":0,"y2":0.7},{"x":15,"x2":25,"y":0,"y2":0.76},{"x":40,"x2":50,"y":0,"y2":1.0},{"x":65,"x2":75,"y":0,"y2":1.78}]},"mark":{"type":"rect","fill":"#9c9bcd","stroke":"#333333","strokeWidth":1},"encoding":{"x2":{"field":"x2"},"y2":{"field":"y2"}}},
{"data":{"values":[{"x":30,"y":0.17},{"x":55,"y":0.165},{"x":80,"y":0.195},{"x":105,"y":0.43}]},"mark":{"type":"line","stroke":"#f2758a","strokeWidth":4}},
{"data":{"values":[{"x":25,"x2":35,"y":0,"y2":0.16},{"x":50,"x2":60,"y":0,"y2":0.165},{"x":75,"x2":85,"y":0,"y2":0.195},{"x":100,"x2":110,"y":0,"y2":0.43}]},"mark":{"type":"rect","fill":"#f27585","stroke":"#333333","strokeWidth":1},"encoding":{"x2":{"field":"x2"},"y2":{"field":"y2"}}},
{"data":{"values":[{"x":-5,"y":0.692,"y2":0.712},{"x":20,"y":0.748,"y2":0.775},{"x":45,"y":0.98,"y2":1.025},{"x":70,"y":1.745,"y2":1.815},{"x":30,"y":0.155,"y2":0.167},{"x":55,"y":0.16,"y2":0.17},{"x":80,"y":0.19,"y2":0.2},{"x":105,"y":0.425,"y2":0.435}]},"mark":{"type":"rule","stroke":"#000000","strokeWidth":2.5},"encoding":{"y2":{"field":"y2"}}},
{"data":{"values":[{"x":-10.2,"y":1.92,"t":"Reward"}]},"mark":{"type":"text","align":"left","baseline":"middle","fontSize":14.6,"fill":"#ee2030"},"encoding":{"text":{"field":"t"}}},
{"data":{"values":[{"x":-10.2,"y":1.74,"t":"No Reward"}]},"mark":{"type":"text","align":"left","baseline":"middle","fontSize":14.6,"fill":"#3a50a8"},"encoding":{"text":{"field":"t"}}},
{"data":{"values":[{"x":25.2,"y":1.459,"t":"r = +0.161"},{"x":25.2,"y":1.277,"t":"p < 0.001"}]},"mark":{"type":"text","align":"left","baseline":"middle","fontSize":14.4,"fontWeight":"bold","fill":"#9c9bcd"},"encoding":{"text":{"field":"t"}}},
{"data":{"values":[{"x":83.3,"y":0.733,"t":"r = +0.198"},{"x":83.3,"y":0.544,"t":"p < 0.001"}]},"mark":{"type":"text","align":"left","baseline":"middle","fontSize":14.4,"fontWeight":"bold","fill":"#f2758a"},"encoding":{"text":{"field":"t"}}},
{"data":{"values":[{"x":-25.6,"y":2.15,"t":"B"}]},"mark":{"type":"text","align":"center","baseline":"middle","fontSize":23,"fill":"#111111"},"encoding":{"text":{"field":"t"}}}
]}
],"spacing":2,"bounds":"flush"},
{"width":1,"height":134,"data":{"values":[]},"mark":"point"},
{"hconcat":[
{"width":19,"height":1,"data":{"values":[]},"mark":"point"},
{"width":100,"height":200,"encoding":{"x":{"field":"x","type":"quantitative","scale":{"domain":[0,100],"nice":false},"axis":{"values":[0,25,50,75,100],"labelExpr":"datum.value==0||datum.value==100?datum.value+'%':''","labelOffset":{"condition":{"test":"datum.value==100","value":-5},"value":0},"title":"Environment reward probability","titleX":47,"titleY":27,"labelPadding":7,"domainWidth":1.5}},"y":{"field":"y","type":"quantitative","scale":{"domain":[0,1.2],"nice":false},"axis":{"values":[0,0.2,0.4,0.6,0.8,1,1.2],"labelExpr":"datum.value==0?'0':format(datum.value,'.1f')","title":"Duration (s)","titleX":-40,"titleY":100,"domainWidth":1.5}}},"layer":[
{"data":{"values":[{"x":0,"y":0.635},{"x":25,"y":0.71},{"x":50,"y":0.775},{"x":75,"y":1.045}]},"mark":{"type":"line","stroke":"#9c9bcd","strokeWidth":3.5}},
{"data":{"values":[{"x":25,"y":0.34},{"x":50,"y":0.315},{"x":75,"y":0.33},{"x":100,"y":0.41}]},"mark":{"type":"line","stroke":"#f2758a","strokeWidth":3.5}},
{"data":{"values":[{"x":75,"y":1.025,"y2":1.06},{"x":50,"y":0.76,"y2":0.79},{"x":25,"y":0.7,"y2":0.72}]},"mark":{"type":"rule","stroke":"#9c9bcd","strokeWidth":5},"encoding":{"y2":{"field":"y2"}}},
{"data":{"values":[{"x":110,"y":0,"y2":1.05}]},"mark":{"type":"rule","stroke":"#808080","strokeWidth":1.5,"strokeDash":[6,4]},"encoding":{"y2":{"field":"y2"}}},
{"data":{"values":[{"x":50,"y":1.458,"t":"Total search"},{"x":50,"y":1.344,"t":"duration"}]},"mark":{"type":"text","align":"center","baseline":"middle","fontSize":16.2,"fill":"#111111"},"encoding":{"text":{"field":"t"}}},
{"data":{"values":[{"x":-56,"y":1.644,"t":"C"}]},"mark":{"type":"text","align":"center","baseline":"middle","fontSize":23,"fill":"#111111"},"encoding":{"text":{"field":"t"}}},
{"data":{"values":[{"x":-24,"y":1.644,"t":"Gaze at environmental fractals is responsible for most of the reward-related search bias"}]},"mark":{"type":"text","align":"left","baseline":"middle","fontSize":15.6,"fill":"#111111"},"encoding":{"text":{"field":"t"}}}
]},
{"width":100,"height":200,"encoding":{"x":{"field":"x","type":"quantitative","scale":{"domain":[0,100],"nice":false},"axis":{"values":[0,25,50,75,100],"labels":false,"title":null,"domainWidth":1.5}},"y":{"field":"y","type":"quantitative","scale":{"domain":[0,1.2],"nice":false},"axis":null}},"layer":[
{"data":{"values":[{"x":0,"y":0.192},{"x":25,"y":0.218},{"x":50,"y":0.292},{"x":75,"y":0.496}]},"mark":{"type":"line","stroke":"#9c9bcd","strokeWidth":3.5}},
{"data":{"values":[{"x":25,"y":0.042},{"x":50,"y":0.038},{"x":75,"y":0.044},{"x":100,"y":0.096}]},"mark":{"type":"line","stroke":"#f2758a","strokeWidth":3.5}},
{"data":{"values":[{"x":75,"y":0.482,"y2":0.508},{"x":50,"y":0.28,"y2":0.302}]},"mark":{"type":"rule","stroke":"#9c9bcd","strokeWidth":5},"encoding":{"y2":{"field":"y2"}}},
{"data":{"values":[{"x":47,"x2":411,"y":1.368,"y2":1.368},{"x":47,"x2":47,"y":1.368,"y2":1.332},{"x":168.5,"x2":168.5,"y":1.368,"y2":1.332},{"x":289.5,"x2":289.5,"y":1.368,"y2":1.332},{"x":411,"x2":411,"y":1.368,"y2":1.332}]},"mark":{"type":"rule","stroke":"#111111","strokeWidth":1.5},"encoding":{"x2":{"field":"x2"},"y2":{"field":"y2"}}},
{"data":{"values":[{"x":230.7,"y":1.458,"t":"Four components of search duration"}]},"mark":{"type":"text","align":"center","baseline":"middle","fontSize":16.2,"fill":"#111111"},"encoding":{"text":{"field":"t"}}},
{"data":{"values":[{"x":47,"y":1.236,"t":"Gazing at"},{"x":47,"y":1.134,"t":"environment"}]},"mark":{"type":"text","align":"center","baseline":"middle","fontSize":14.7,"fontWeight":"bold","fill":"#111111"},"encoding":{"text":{"field":"t"}}}
]},
{"width":100,"height":200,"encoding":{"x":{"field":"x","type":"quantitative","scale":{"domain":[0,100],"nice":false},"axis":{"values":[0,25,50,75,100],"labels":false,"title":null,"domainWidth":1.5}},"y":{"field":"y","type":"quantitative","scale":{"domain":[0,1.2],"nice":false},"axis":null}},"layer":[
{"data":{"values":[{"x":0,"y":0.13},{"x":25,"y":0.148},{"x":50,"y":0.142},{"x":75,"y":0.188}]},"mark":{"type":"line","stroke":"#9c9bcd","strokeWidth":3.5}},
{"data":{"values":[{"x":25,"y":0.09},{"x":50,"y":0.074},{"x":75,"y":0.072},{"x":100,"y":0.08}]},"mark":{"type":"line","stroke":"#f2758a","strokeWidth":3.5}},
{"data":{"values":[{"x":47.5,"y":1.236,"t":"Gazing at"},{"x":47.5,"y":1.134,"t":"target"}]},"mark":{"type":"text","align":"center","baseline":"middle","fontSize":14.7,"fontWeight":"bold","fill":"#808080"},"encoding":{"text":{"field":"t"}}}
]},
{"width":100,"height":200,"encoding":{"x":{"field":"x","type":"quantitative","scale":{"domain":[0,100],"nice":false},"axis":{"values":[0,25,50,75,100],"labels":false,"title":null,"domainWidth":1.5}},"y":{"field":"y","type":"quantitative","scale":{"domain":[0,1.2],"nice":false},"axis":null}},"layer":[
{"data":{"values":[{"x":0,"y":0.238},{"x":25,"y":0.254},{"x":50,"y":0.244},{"x":75,"y":0.226}]},"mark":{"type":"line","stroke":"#9c9bcd","strokeWidth":3.5}},
{"data":{"values":[{"x":25,"y":0.186},{"x":50,"y":0.184},{"x":75,"y":0.192},{"x":100,"y":0.212}]},"mark":{"type":"line","stroke":"#f2758a","strokeWidth":3.5}},
{"data":{"values":[{"x":47.5,"y":1.236,"t":"Gazing at"},{"x":47.5,"y":1.134,"t":"start position"}]},"mark":{"type":"text","align":"center","baseline":"middle","fontSize":14.7,"fontWeight":"bold","fill":"#808080"},"encoding":{"text":{"field":"t"}}}
]},
{"width":100,"height":200,"encoding":{"x":{"field":"x","type":"quantitative","scale":{"domain":[0,100],"nice":false},"axis":{"values":[0,25,50,75,100],"labels":false,"title":null,"domainWidth":1.5}},"y":{"field":"y","type":"quantitative","scale":{"domain":[0,1.2],"nice":false},"axis":null}},"layer":[
{"data":{"values":[{"x":0,"y":0.078},{"x":25,"y":0.098},{"x":50,"y":0.102},{"x":75,"y":0.136}]},"mark":{"type":"line","stroke":"#9c9bcd","strokeWidth":3.5}},
{"data":{"values":[{"x":25,"y":0.022},{"x":50,"y":0.016},{"x":75,"y":0.016},{"x":100,"y":0.018}]},"mark":{"type":"line","stroke":"#f2758a","strokeWidth":3.5}},
{"data":{"values":[{"x":48,"y":1.236,"t":"All other"},{"x":48,"y":1.134,"t":"search time"}]},"mark":{"type":"text","align":"center","baseline":"middle","fontSize":14.7,"fontWeight":"bold","fill":"#808080"},"encoding":{"text":{"field":"t"}}}
]}
],"spacing":21,"bounds":"flush"},
{"width":1,"height":97,"data":{"values":[]},"mark":"point"},
{"hconcat":[
{"width":27,"height":1,"data":{"values":[]},"mark":"point"},
{"width":157,"height":191,"encoding":{"x":{"field":"x","type":"quantitative","scale":{"domain":[0.188,4.74],"nice":false,"zero":false},"axis":{"values":[1,2,3,4],"ticks":false,"labelAngle":-45,"labelAlign":"right","labelBaseline":"top","labelFontSize":14.5,"labelExpr":"['','Envir.','Target','Start pos.','Other'][datum.value]","labelFontWeight":{"condition":{"test":"datum.value==1","value":"bold"},"value":"normal"},"title":null,"labelPadding":7,"domainWidth":1.5}},"y":{"field":"y","type":"quantitative","scale":{"domain":[0,100.5],"nice":false},"axis":{"values":[0,20,40,60,80,100],"title":"% variance explained","titleX":-42,"titleY":103}}},"layer":[
{"data":{"values":[{"x":1.5,"x2":2.5,"y":0,"y2":28},{"x":2.5,"x2":3.5,"y":0,"y2":15},{"x":3.5,"x2":4.5,"y":0,"y2":32}]},"mark":{"type":"rect","fill":"#e6e8e6","stroke":"#8c8c8c","strokeWidth":2.5},"encoding":{"x2":{"field":"x2"},"y2":{"field":"y2"}}},
{"data":{"values":[{"x":0.5,"x2":1.5,"y":0,"y2":82}]},"mark":{"type":"rect","fill":"#c8c8c8","stroke":"#111111","strokeWidth":3},"encoding":{"x2":{"field":"x2"},"y2":{"field":"y2"}}},
{"data":{"values":[{"x":2,"y":27,"y2":29.2},{"x":4,"y":31,"y2":33}]},"mark":{"type":"rule","stroke":"#8c8c8c","strokeWidth":2.5},"encoding":{"y2":{"field":"y2"}}},
{"data":{"values":[{"x":1,"x2":1,"y":93.3,"y2":90.5},{"x":1,"x2":3,"y":93.3,"y2":93.3},{"x":3,"x2":3,"y":93.3,"y2":44.2},{"x":2,"x2":4,"y":44.2,"y2":44.2}]},"mark":{"type":"rule","stroke":"#111111","strokeWidth":1.5},"encoding":{"x2":{"field":"x2"},"y2":{"field":"y2"}}},
{"data":{"values":[{"x":2,"y":96,"t":"***"}]},"mark":{"type":"text","align":"center","baseline":"middle","fontSize":23,"fill":"#111111"},"encoding":{"text":{"field":"t"}}},
{"data":{"values":[{"x":2.536,"y":115.8,"t":"Contribution to"},{"x":2.536,"y":106.3,"t":"reward-related bias"}]},"mark":{"type":"text","align":"center","baseline":"middle","fontSize":14.2,"fill":"#1a1a1a"},"encoding":{"text":{"field":"t"}}},
{"data":{"values":[{"x":-1.55,"y":115.8,"t":"D"}]},"mark":{"type":"text","align":"center","baseline":"middle","fontSize":23,"fill":"#111111"},"encoding":{"text":{"field":"t"}}}
]},
{"width":50,"height":1,"data":{"values":[]},"mark":"point"},
{"width":156,"height":191,"encoding":{"x":{"field":"x","type":"quantitative","scale":{"domain":[0.263,4.77],"nice":false,"zero":false},"axis":{"values":[1,2,3,4],"labelAngle":-45,"labelAlign":"right","labelBaseline":"top","labelFontSize":14.5,"labelExpr":"['','Envir.','Target','Start pos.','Other'][datum.value]","labelFontWeight":{"condition":{"test":"datum.value==1","value":"bold"},"value":"normal"},"title":null,"labelPadding":7,"domainWidth":1.5}},"y":{"field":"y","type":"quantitative","scale":{"domain":[-0.413,0.413],"nice":false,"zero":false},"axis":{"values":[-0.4,-0.2,0,0.2,0.4],"labelExpr":"datum.value==0?'0':replace(format(datum.value,'.1f'),'−','-')","title":"Fitted effect on duration (s)","titleX":-30,"titleY":95}}},"layer":[
{"data":{"values":[{"x":1.5,"x2":2.5,"y":0,"y2":-0.072},{"x":2.5,"x2":3.5,"y":0,"y2":-0.052},{"x":3.5,"x2":4.5,"y":0,"y2":-0.09}]},"mark":{"type":"rect","fill":"#e6e8e6","stroke":"#8c8c8c","strokeWidth":2.5},"encoding":{"x2":{"field":"x2"},"y2":{"field":"y2"}}},
{"data":{"values":[{"x":0.5,"x2":1.5,"y":0,"y2":-0.275}]},"mark":{"type":"rect","fill":"#c8c8c8","stroke":"#111111","strokeWidth":3},"encoding":{"x2":{"field":"x2"},"y2":{"field":"y2"}}},
{"data":{"values":[{"x":0.263,"x2":4.77,"y":0}]},"mark":{"type":"rule","stroke":"#808080","strokeWidth":4},"encoding":{"x2":{"field":"x2"}}},
{"data":{"values":[{"x":1,"x2":1,"y":-0.34,"y2":-0.32},{"x":1,"x2":3,"y":-0.34,"y2":-0.34},{"x":3,"x2":3,"y":-0.34,"y2":-0.146},{"x":2,"x2":4,"y":-0.146,"y2":-0.146}]},"mark":{"type":"rule","stroke":"#111111","strokeWidth":1.5},"encoding":{"x2":{"field":"x2"},"y2":{"field":"y2"}}},
{"data":{"values":[{"x":2.05,"y":-0.385,"t":"***"}]},"mark":{"type":"text","align":"center","baseline":"middle","fontSize":23,"fill":"#111111"},"encoding":{"text":{"field":"t"}}},
{"data":{"values":[{"x":2.517,"y":0.536,"t":"Reward effect"},{"x":2.517,"y":0.458,"t":"on duration"}]},"mark":{"type":"text","align":"center","baseline":"middle","fontSize":14.2,"fill":"#1a1a1a"},"encoding":{"text":{"field":"t"}}},
{"data":{"values":[{"x":-1.3,"y":0.545,"t":"E"}]},"mark":{"type":"text","align":"center","baseline":"middle","fontSize":23,"fill":"#111111"},"encoding":{"text":{"field":"t"}}}
]},
{"width":156,"height":191,"encoding":{"x":{"field":"x","type":"quantitative","scale":{"domain":[0.257,4.76],"nice":false,"zero":false},"axis":{"values":[1,2,3,4],"labelAngle":-45,"labelAlign":"right","labelBaseline":"top","labelFontSize":14.5,"labelExpr":"['','Envir.','Target','Start pos.','Other'][datum.value]","labelFontWeight":{"condition":{"test":"datum.value==1","value":"bold"},"value":"normal"},"title":null,"labelPadding":7,"domainWidth":1.5}},"y":{"field":"y","type":"quantitative","scale":{"domain":[-0.413,0.413],"nice":false,"zero":false},"axis":{"values":[-0.4,-0.2,0,0.2,0.4],"labels":false,"title":null}}},"layer":[
{"data":{"values":[{"x":1.5,"x2":2.5,"y":0,"y2":0.025},{"x":2.5,"x2":3.5,"y":0,"y2":0.018},{"x":3.5,"x2":4.5,"y":0,"y2":0.03}]},"mark":{"type":"rect","fill":"#e6e8e6","stroke":"#8c8c8c","strokeWidth":2.5},"encoding":{"x2":{"field":"x2"},"y2":{"field":"y2"}}},
{"data":{"values":[{"x":0.5,"x2":1.5,"y":0,"y2":0.2}]},"mark":{"type":"rect","fill":"#c8c8c8","stroke":"#111111","strokeWidth":3},"encoding":{"x2":{"field":"x2"},"y2":{"field":"y2"}}},
{"data":{"values":[{"x":0.257,"x2":4.76,"y":0}]},"mark":{"type":"rule","stroke":"#808080","strokeWidth":4},"encoding":{"x2":{"field":"x2"}}},
{"data":{"values":[{"x":1,"x2":1,"y":0.267,"y2":0.248},{"x":1,"x2":3,"y":0.267,"y2":0.267},{"x":3,"x2":3,"y":0.267,"y2":0.0735},{"x":2,"x2":4,"y":0.0735,"y2":0.0735}]},"mark":{"type":"rule","stroke":"#111111","strokeWidth":1.5},"encoding":{"x2":{"field":"x2"},"y2":{"field":"y2"}}},
{"data":{"values":[{"x":2.1,"y":0.312,"t":"***"}]},"mark":{"type":"text","align":"center","baseline":"middle","fontSize":23,"fill":"#111111"},"encoding":{"text":{"field":"t"}}},
{"data":{"values":[{"x":2.494,"y":0.536,"t":"p(reward) effect"},{"x":2.494,"y":0.458,"t":"on duration"}]},"mark":{"type":"text","align":"center","baseline":"middle","fontSize":14.2,"fill":"#1a1a1a"},"encoding":{"text":{"field":"t"}}}
]}
],"spacing":16,"bounds":"flush"}
]}
